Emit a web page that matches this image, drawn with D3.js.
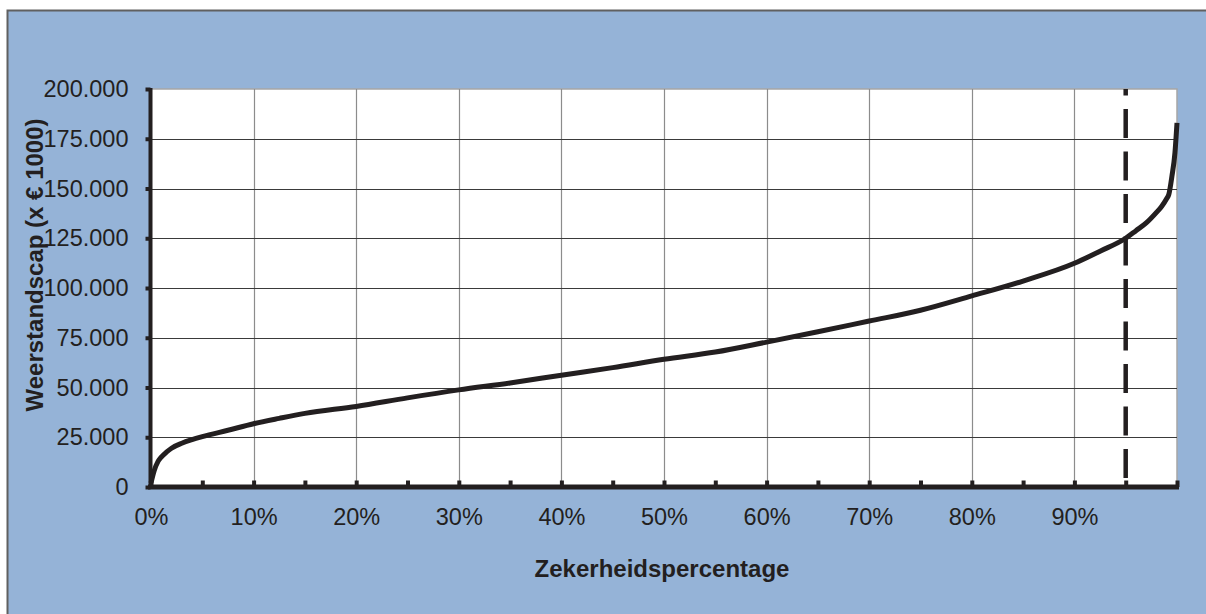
<!DOCTYPE html>
<html>
<head>
<meta charset="utf-8">
<script src="https://cdn.jsdelivr.net/npm/d3@7"></script>
<style>
  html, body { margin: 0; padding: 0; background: #ffffff; }
  svg { display: block; }
  text { font-family: "Liberation Sans", Arial, sans-serif; fill: #231f20; }
</style>
</head>
<body>
<svg id="chart" width="1206" height="614"></svg>
<script>
// ---- data ----
const percentages = [0, 0.3, 0.7, 1, 1.5, 2, 3, 4, 5, 7.5, 10, 12.5, 15, 20, 25, 30, 35, 40, 45, 50,
  55, 60, 65, 70, 75, 80, 85, 90, 92.5, 95, 96, 97, 98, 98.5, 99, 99.2, 99.5, 99.8, 100];
const capacities = [2000, 8000, 13000, 15000, 17500, 19500, 22000, 23800, 25300, 28500, 31800, 34500,
  37000, 40500, 44800, 48800, 52300, 56200, 60000, 64200, 67800, 72800, 78000, 83400, 88800, 96000,
  103500, 112400, 118500, 125000, 128800, 132700, 138000, 141000, 145000, 147000, 156000, 168000, 183000];
const yTicks = [0, 25000, 50000, 75000, 100000, 125000, 150000, 175000, 200000];
const xTicks = [0, 5, 10, 15, 20, 25, 30, 35, 40, 45, 50, 55, 60, 65, 70, 75, 80, 85, 90, 95, 100];
const xLabelTicks = [0, 10, 20, 30, 40, 50, 60, 70, 80, 90];
const thresholdPct = 95;
const yTitle = "Weerstandscap (x € 1000)";
const xTitle = "Zekerheidspercentage";

// ---- layout ----
const svg = d3.select("#chart");
const x = d3.scaleLinear().domain([0, 100]).range([151, 1177]);
const y = d3.scaleLinear().domain([0, 200000]).range([487, 89]);
const fmtY = v => v === 0 ? "0" : d3.format(",")(v).replace(/,/g, ".");
const ink = "#231f20";

// outer frame
svg.append("rect").attr("x", 7.5).attr("y", 10.5).attr("width", 1220).attr("height", 640)
  .attr("fill", "#95b3d7").attr("stroke", "#606060").attr("stroke-width", 2);

// plot area
svg.append("rect").attr("x", x(0)).attr("y", y(200000))
  .attr("width", x(100) - x(0)).attr("height", y(0) - y(200000))
  .attr("fill", "#ffffff").attr("stroke", "#a6a6a6").attr("stroke-width", 1.5);

// grid lines
svg.append("g").selectAll("line").data(xLabelTicks.filter(d => d > 0)).join("line")
  .attr("x1", d => Math.round(x(d)) + 0.5).attr("x2", d => Math.round(x(d)) + 0.5)
  .attr("y1", y(200000)).attr("y2", y(0))
  .attr("stroke", "#8c8c8c").attr("stroke-width", 1.2);
svg.append("g").selectAll("line").data(yTicks.filter(d => d > 0 && d < 200000)).join("line")
  .attr("x1", x(0)).attr("x2", x(100))
  .attr("y1", d => Math.round(y(d)) + 0.5).attr("y2", d => Math.round(y(d)) + 0.5)
  .attr("stroke", "#3a3a3a").attr("stroke-width", 1.1);

// threshold dashed line
svg.append("line")
  .attr("x1", x(thresholdPct)).attr("x2", x(thresholdPct))
  .attr("y1", y(0)).attr("y2", y(200000))
  .attr("stroke", ink).attr("stroke-width", 4.5)
  .attr("stroke-dasharray", "29 13.5").attr("stroke-dashoffset", 33.5);

// curve
const line = d3.line().x((d, i) => x(percentages[i])).y(d => y(d)).curve(d3.curveMonotoneX);
svg.append("path").datum(capacities).attr("d", line)
  .attr("fill", "none").attr("stroke", ink).attr("stroke-width", 5)
  .attr("stroke-linejoin", "round").attr("stroke-linecap", "butt");

// y axis
const yAxis = d3.axisLeft(y).tickValues(yTicks).tickFormat(fmtY).tickSize(5).tickPadding(17);
const gy = svg.append("g").attr("transform", "translate(150.5,0)").call(yAxis);
gy.select(".domain").attr("stroke", ink).attr("stroke-width", 4).attr("d", `M0,${y(200000) - 1}V${y(0)}`);
gy.selectAll(".tick line").attr("stroke", ink).attr("stroke-width", 4);
gy.selectAll(".tick text").attr("font-size", "23.5px").attr("fill", ink)
  .style("font-family", "'Liberation Sans', Arial, sans-serif");

// x axis
const xAxis = d3.axisBottom(x).tickValues(xTicks)
  .tickFormat(d => xLabelTicks.includes(d) ? d + "%" : "")
  .tickSizeInner(-6.5).tickSizeOuter(0).tickPadding(21);
const gx = svg.append("g").attr("transform", `translate(0,${y(0)})`).call(xAxis);
gx.select(".domain").attr("stroke", ink).attr("stroke-width", 5).attr("d", `M${x(0) - 3},0H${x(100) + 2}`);
gx.selectAll(".tick line").attr("stroke", ink).attr("stroke-width", 4);
gx.selectAll(".tick text").attr("font-size", "23.5px").attr("fill", ink)
  .style("font-family", "'Liberation Sans', Arial, sans-serif");

// titles
svg.append("text").attr("x", 662).attr("y", 577).attr("text-anchor", "middle")
  .attr("font-size", "24px").attr("font-weight", "bold").text(xTitle);
svg.append("text").attr("transform", "translate(43,265) rotate(-90)").attr("text-anchor", "middle")
  .attr("font-size", "24px").attr("font-weight", "bold").text(yTitle);
</script>
</body>
</html>
